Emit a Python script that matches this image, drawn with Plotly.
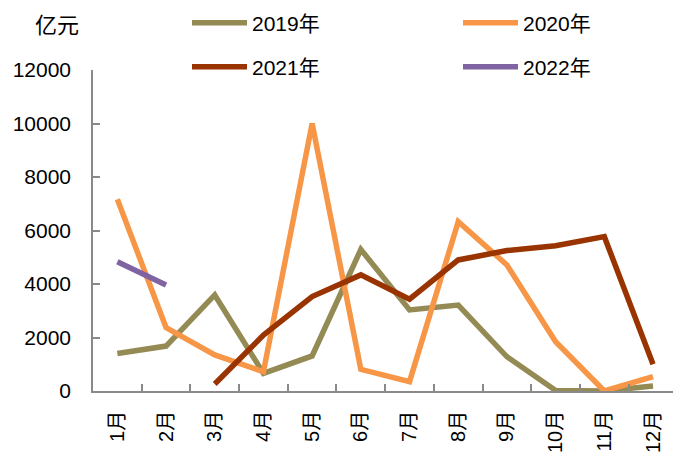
import plotly.graph_objects as go

months = ["1月", "2月", "3月", "4月", "5月", "6月", "7月", "8月", "9月", "10月", "11月", "12月"]
y2019 = [1400, 1680, 3590, 660, 1310, 5290, 3030, 3215, 1280, 20, 0, 190]
y2020 = [7170, 2370, 1350, 720, 10000, 810, 350, 6330, 4710, 1840, 0, 540]
y2021 = [None, None, 260, 2090, 3530, 4340, 3430, 4900, 5250, 5430, 5770, 1000]
y2022 = [4830, 3960] + [None] * 10
y_ticks = [0, 2000, 4000, 6000, 8000, 10000, 12000]

FONT = "Liberation Sans, Noto Sans CJK SC, sans-serif"
AXIS = "#898989"
W, H = 673, 453
ML, MR, MT, MB = 93, 0, 70, 62
PW, PH = W - ML - MR, H - MT - MB

# (name, values, colour, legend id, legend left px, legend centre y px)
series = [
    ("2019年", y2019, "#948A54", "legend", 187, 23),
    ("2020年", y2020, "#F79646", "legend2", 458, 23),
    ("2021年", y2021, "#993300", "legend3", 187, 67),
    ("2022年", y2022, "#8064A2", "legend4", 458, 67),
]

fig = go.Figure()
legends = {}
for name, vals, color, lg, lx, ly in series:
    fig.add_trace(go.Scatter(
        x=months, y=vals, name=name, mode="lines",
        line=dict(color=color, width=5.5), connectgaps=False,
        legend=lg,
    ))
    legends[lg] = dict(
        orientation="h", font=dict(family=FONT, size=21, color="#000000"),
        itemwidth=55, bgcolor="rgba(0,0,0,0)", borderwidth=0,
        xref="container", yref="container",
        x=lx / W, y=1 - ly / H, xanchor="left", yanchor="middle",
    )

fig.update_layout(
    width=W, height=H,
    margin=dict(l=ML, r=MR, t=MT, b=MB, autoexpand=False),
    paper_bgcolor="white", plot_bgcolor="white",
    font=dict(family=FONT, size=21, color="#000000"),
    showlegend=True,
    **legends,
    xaxis=dict(
        type="category", range=[-0.5, 11.41],
        showline=True, linecolor=AXIS, linewidth=1.5,
        ticks="inside", tickson="boundaries", ticklen=7, tickcolor=AXIS, tickwidth=1.5,
        tickangle=-90, showgrid=False, zeroline=False, ticklabelstandoff=10,
        tickfont=dict(family=FONT, size=20), automargin=False,
    ),
    yaxis=dict(
        range=[0, 12000], tickvals=y_ticks, ticktext=[str(v) for v in y_ticks],
        showline=True, linecolor=AXIS, linewidth=1.5,
        ticks="inside", ticklen=7, tickcolor=AXIS, tickwidth=1.5,
        showgrid=False, zeroline=False, ticklabelstandoff=16,
        tickfont=dict(family=FONT, size=21), automargin=False,
    ),
    annotations=[dict(
        text="亿元", xref="paper", yref="paper",
        x=(57 - ML) / PW, y=1 + (MT - 26) / PH,
        xanchor="center", yanchor="middle", showarrow=False,
        font=dict(family=FONT, size=22, color="#000000"),
    )],
)

fig.write_html("out.html", config={"displayModeBar": False},
               post_script="document.body.style.margin='0';")
